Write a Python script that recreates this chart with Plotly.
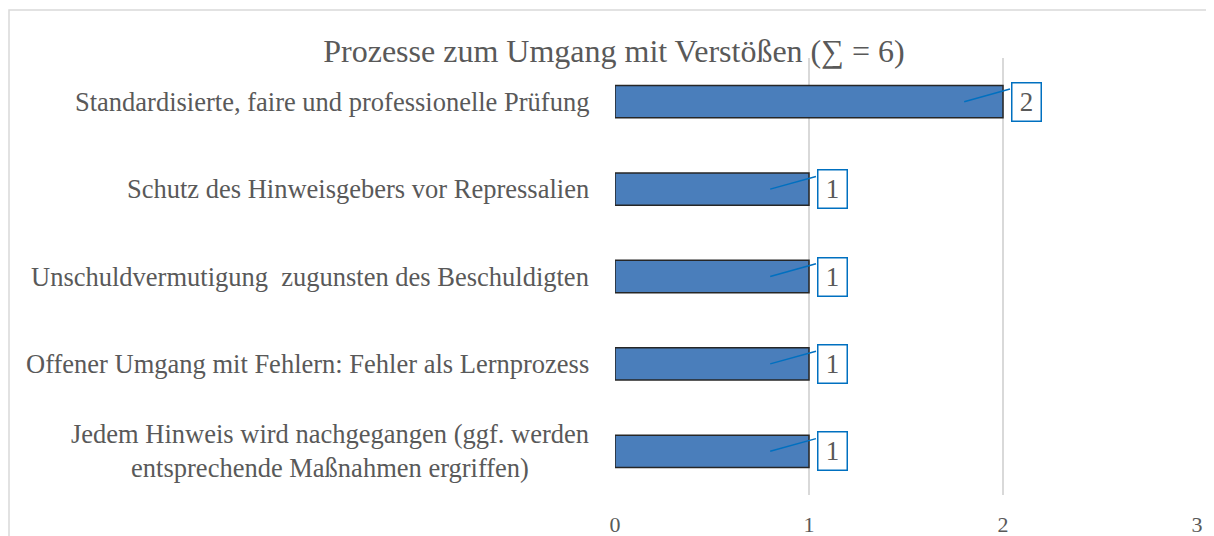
import plotly.graph_objects as go

title = "Prozesse zum Umgang mit Verstößen (∑ = 6)"
categories = [
    "Standardisierte, faire und professionelle Prüfung",
    "Schutz des Hinweisgebers vor Repressalien",
    "Unschuldvermutigung\u00a0 zugunsten des Beschuldigten",
    "Offener Umgang mit Fehlern: Fehler als Lernprozess",
    "Jedem Hinweis wird nachgegangen (ggf. werden<br>entsprechende Maßnahmen ergriffen)",
]
values = [2, 1, 1, 1, 1]
x_ticks = [0, 1, 2, 3]

FONT = "Liberation Serif, Times New Roman, serif"
GRAY = "#595959"
BLUE_BORDER = "#0070C0"

W, H = 1206, 528
L, R, T, B = 607, 17, 50, 41
PW, PH = W - L - R, H - T - B

n = len(categories)
positions = [n - 1 - i for i in range(n)]  # top to bottom

fig = go.Figure()
fig.add_trace(go.Bar(
    x=values, y=positions, orientation="h", width=0.37,
    marker=dict(color="#4A7EBB", line=dict(color="#262626", width=1.5)),
    hoverinfo="skip", showlegend=False,
))

# leader lines from bar to label box
lx, ly = [], []
for v, p in zip(values, positions):
    lx += [v - 0.2, v + 0.036, None]
    ly += [p, p + 0.145, None]
fig.add_trace(go.Scatter(x=lx, y=ly, mode="lines",
                         line=dict(color=BLUE_BORDER, width=1.5),
                         hoverinfo="skip", showlegend=False))

annotations = []
for v, p in zip(values, positions):
    annotations.append(dict(
        x=v, y=p, xref="x", yref="y", text=str(v), showarrow=False,
        xanchor="left", yanchor="middle", xshift=8,
        width=26, height=35, borderpad=1,
        bordercolor=BLUE_BORDER, borderwidth=1.5, bgcolor="white",
        font=dict(family=FONT, size=27, color=GRAY),
    ))
for c, p in zip(categories, positions):
    annotations.append(dict(
        x=0, y=p, xref="paper", yref="y", text=c, showarrow=False,
        xanchor="right", yanchor="middle", xshift=-24, align="center",
        font=dict(family=FONT, size=26.5, color=GRAY),
    ))

fig.update_layout(
    width=W, height=H,
    margin=dict(l=L, r=R, t=T, b=B, autoexpand=False),
    paper_bgcolor="white", plot_bgcolor="white",
    title=dict(text=title, x=606 / W, xref="container", xanchor="center",
               y=1 - 43 / H, yref="container", yanchor="middle",
               font=dict(family=FONT, size=32, color=GRAY)),
    xaxis=dict(range=[0, 3], tickvals=x_ticks, showgrid=True,
               gridcolor="#D9D9D9", gridwidth=1.5, zeroline=False,
               showline=False, ticks="", ticklabelstandoff=14,
               tickfont=dict(family=FONT, size=22, color=GRAY),
               fixedrange=True),
    yaxis=dict(range=[-0.5, n - 0.5], showticklabels=False, showgrid=False,
               zeroline=False, showline=False, fixedrange=True),
    annotations=annotations,
    shapes=[dict(type="rect", xref="paper", yref="paper",
                 x0=(1 - L) / PW, x1=1.2, y0=-0.3, y1=(PH + T - 2) / PH,
                 line=dict(color="#D9D9D9", width=1.5), fillcolor="rgba(0,0,0,0)",
                 layer="below")],
)

fig.write_html("out.html")
